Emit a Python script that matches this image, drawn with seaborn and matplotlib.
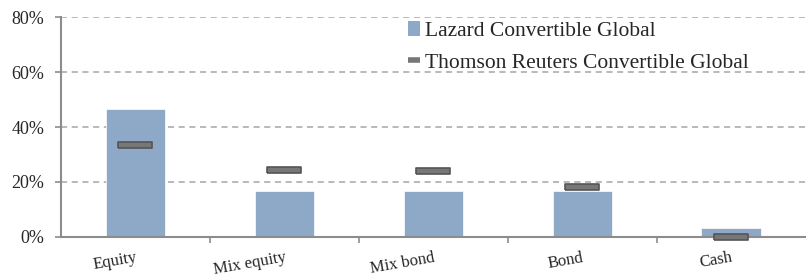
import matplotlib
matplotlib.use("Agg")
import matplotlib.pyplot as plt
from matplotlib.lines import Line2D
from matplotlib.patches import Patch
import seaborn as sns
import pandas as pd

# data
categories = ["Equity", "Mix equity", "Mix bond", "Bond", "Cash"]
lazard = [46.5, 16.7, 16.7, 16.7, 3.3]
thomson = [33.5, 24.4, 24.0, 18.0, 0.0]

sns.set_style("white")
plt.rcParams["font.family"] = ["Liberation Serif", "DejaVu Serif"]

bar_color = "#8EA8C8"
mark_face = "#777777"
mark_edge = "#555555"
axis_grey = "#8c8c8c"

df = pd.DataFrame({"category": categories, "lazard": lazard, "thomson": thomson})

fig = plt.figure(figsize=(8.06, 2.78), dpi=100)
ax = fig.add_axes([0.0757, 0.1475, 0.924, 0.7913])

sns.barplot(data=df, x="category", y="lazard", color=bar_color, width=0.4,
            saturation=1, edgecolor="white", linewidth=0.5, ax=ax, zorder=2)

# benchmark shown as flat rectangular markers
rect = [(-2.5, -0.5), (2.5, -0.5), (2.5, 0.5), (-2.5, 0.5), (-2.5, -0.5)]
ax.plot(range(len(categories)), df["thomson"], linestyle="none", marker=rect,
        markersize=24, markerfacecolor=mark_face, markeredgecolor=mark_edge,
        markeredgewidth=1.2, zorder=4, clip_on=False)

ax.set_xlim(-0.5, len(categories) - 0.5)
ax.set_ylim(0, 80)
ax.set_yticks([0, 20, 40, 60, 80])
ax.set_yticklabels([f"{v}%" for v in [0, 20, 40, 60, 80]], fontsize=13)
ax.set_xlabel("")
ax.set_ylabel("")

ax.yaxis.grid(True, linestyle=(0, (4, 3)), color="#a6a6a6", linewidth=1.1, zorder=0)
ax.set_axisbelow(True)

for s in ["top", "right"]:
    ax.spines[s].set_visible(False)
for s in ["left", "bottom"]:
    ax.spines[s].set_color(axis_grey)
    ax.spines[s].set_linewidth(1.5)
    ax.spines[s].set_zorder(3)

ax.tick_params(axis="y", length=4, width=1.2, color=axis_grey, pad=8, left=True)
ax.tick_params(axis="x", which="major", length=0, pad=9)
ax.set_xticks([i + 0.5 for i in range(len(categories) - 1)], minor=True)
ax.tick_params(axis="x", which="minor", length=4, width=1.2, color=axis_grey, bottom=True)
for lab in ax.get_xticklabels():
    lab.set_rotation(10)
    lab.set_fontsize(12)
    lab.set_ha("right")
    lab.set_rotation_mode("anchor")

handles = [
    Patch(facecolor=bar_color, edgecolor="none", label="Lazard Convertible Global"),
    Line2D([0], [0], color=mark_face, linewidth=4, solid_capstyle="butt",
           label="Thomson Reuters Convertible Global"),
]
ax.legend(handles=handles, loc="upper left", bbox_to_anchor=(0.44, 1.07),
          frameon=False, fontsize=15.5, handlelength=0.55, handleheight=0.7,
          handletextpad=0.25, labelspacing=0.55)

fig.savefig("out.png", dpi=100)
